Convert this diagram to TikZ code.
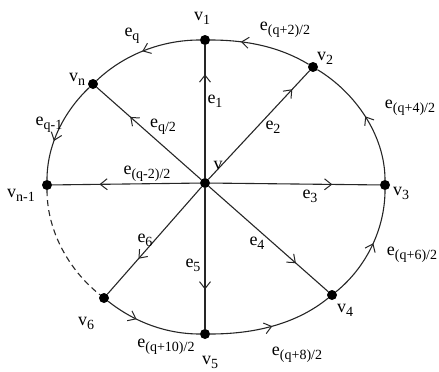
\documentclass[tikz,border=0pt]{standalone}
\usepackage{fontspec}
\setmainfont{Liberation Serif}
\usetikzlibrary{arrows.meta,decorations.markings}
\newcommand{\lbl}[2]{#1\raisebox{-0.22em}{\fontsize{14}{14}\selectfont #2}}
\begin{document}
\begin{tikzpicture}[x=1pt,y=1pt,
  dot/.style={circle,fill=black,inner sep=0pt,minimum size=10pt},
  edge/.style={draw=black!85,line width=1.1pt},
  rim/.style={edge,looseness=0.88},
  dashededge/.style={rim,dashed,dash pattern=on 6pt off 4pt},
  lab/.style={font=\fontsize{18}{18}\selectfont,inner sep=0pt},
  midarr/.style={postaction={decorate},decoration={markings,
     mark=at position #1 with {\arrow{Straight Barb[length=7pt,width=11pt,line width=1pt]}}}}]
\useasboundingbox (0,0) rectangle (439,-372);
% vertices
\node[dot] (v)  at (205,-183) {};
\node[dot] (v1) at (205,-40) {};
\node[dot] (v2) at (313,-67) {};
\node[dot] (v3) at (385,-185) {};
\node[dot] (v4) at (332,-295) {};
\node[dot] (v5) at (205,-334) {};
\node[dot] (v6) at (104,-298) {};
\node[dot] (vm) at (47,-185) {};
\node[dot] (vn) at (93,-84) {};
% spokes
\draw[edge,midarr=0.78] (v) -- (v1);
\draw[edge,midarr=0.83] (v) -- (v2);
\draw[edge,midarr=0.72] (v) -- (v3);
\draw[edge,midarr=0.73] (v) -- (v4);
\draw[edge,midarr=0.72] (v) -- (v5);
\draw[edge,midarr=0.67] (v) -- (v6);
\draw[edge,midarr=0.68] (v) -- (vm);
\draw[edge,midarr=0.68] (v) -- (vn);
% rim
\draw[rim,midarr=0.34] (v6) to[out=-38.4,in=180] (v5);
\draw[rim,midarr=0.5] (v5) to[out=0,in=-141] (v4);
\draw[rim,midarr=0.53] (v4) to[out=39,in=-90] (v3);
\draw[rim,midarr=0.5] (v3) to[out=90,in=-31.1] (v2);
\draw[rim,midarr=0.7] (v2) to[out=148.9,in=0] (v1);
\draw[rim,midarr=0.52] (v1) to[out=180,in=43.5] (vn);
\draw[rim,midarr=0.62] (vn) to[out=223.5,in=90] (vm);
\draw[dashededge] (vm) to[out=-90,in=141.6] (v6);
% vertex labels
\node[lab] (lv)  at (218,-165) {v};
\node[lab] (lv1) at (202,-18) {\lbl{v}{1}};
\node[lab] (lv2) at (325,-58) {\lbl{v}{2}};
\node[lab] (lv3) at (401,-193) {\lbl{v}{3}};
\node[lab] (lv4) at (345,-310) {\lbl{v}{4}};
\node[lab] (lv5) at (210,-362) {\lbl{v}{5}};
\node[lab] (lv6) at (86,-323) {\lbl{v}{6}};
\node[lab] (lvm) at (21,-195) {\lbl{v}{n-1}};
\node[lab] (lvn) at (77,-79) {\lbl{v}{n}};
% edge labels
\node[lab] (le1) at (215,-101) {\lbl{e}{1}};
\node[lab] (le2) at (273,-127) {\lbl{e}{2}};
\node[lab] (le3) at (310,-196) {\lbl{e}{3}};
\node[lab] (le4) at (257,-243) {\lbl{e}{4}};
\node[lab] (le5) at (193,-265) {\lbl{e}{5}};
\node[lab] (le6) at (145,-240) {\lbl{e}{6}};
\node[lab] (lem) at (147,-174) {\lbl{e}{(q-2)/2}};
\node[lab] (leh) at (163,-127) {\lbl{e}{q/2}};
\node[lab] (leq) at (132,-36) {\lbl{e}{q}};
\node[lab] (leq1) at (49,-125) {\lbl{e}{q-1}};
\node[lab] (lr1) at (285,-30) {\lbl{e}{(q+2)/2}};
\node[lab] (lr2) at (410,-108) {\lbl{e}{(q+4)/2}};
\node[lab] (lr3) at (412,-255) {\lbl{e}{(q+6)/2}};
\node[lab] (lr4) at (297,-355) {\lbl{e}{(q+8)/2}};
\node[lab] (lr5) at (166,-347) {\lbl{e}{(q+10)/2}};
\end{tikzpicture}
\end{document}
